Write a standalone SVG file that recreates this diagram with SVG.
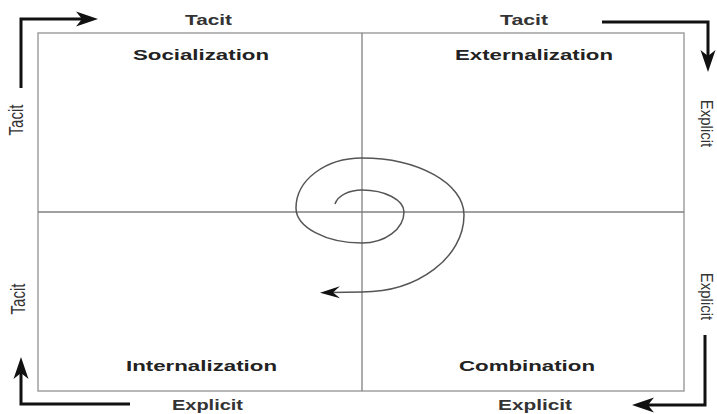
<svg xmlns="http://www.w3.org/2000/svg" width="717" height="414" viewBox="0 0 717 414">
<style>
.box{fill:none;stroke:#a0a0a0;stroke-width:1.5}
.axis{stroke:#808080;stroke-width:1.3;fill:none}
.spiral{fill:none;stroke:#555;stroke-width:1.5}
.flow{fill:none;stroke:#111;stroke-width:3}
.q{font-family:"Liberation Sans",Arial,sans-serif;font-weight:bold;font-size:15px;fill:#222;text-anchor:middle}
.h{font-family:"Liberation Sans",Arial,sans-serif;font-weight:bold;font-size:14px;fill:#333;text-anchor:middle}
.v{font-family:"Liberation Sans",Arial,sans-serif;font-size:15px;fill:#333;text-anchor:middle}
</style>
<defs>
<marker id="bigHead" markerUnits="userSpaceOnUse" viewBox="-24 -9 26 18" markerWidth="26" markerHeight="18" refX="-14" refY="0" orient="auto">
<path d="M0,0 L-22,-7.5 L-16,0 L-22,7.5 Z" fill="#111"/>
</marker>
<marker id="smallHead" markerUnits="userSpaceOnUse" viewBox="-22 -8 24 16" markerWidth="24" markerHeight="16" refX="-10" refY="0" orient="auto">
<path d="M0,0 L-20,-6 L-13,0 L-20,6 Z" fill="#111"/>
</marker>
</defs>
<rect width="717" height="414" fill="#fff"/>

<g id="frame">
<rect class="box" x="38" y="33" width="646" height="358"/>
<line class="axis" x1="362" y1="33" x2="362" y2="391"/>
<line class="axis" x1="38" y1="212" x2="684" y2="212"/>
</g>

<g id="socialization"><text class="q" x="201" y="60" textLength="136" lengthAdjust="spacingAndGlyphs">Socialization</text></g>
<g id="externalization"><text class="q" x="534" y="60" textLength="158" lengthAdjust="spacingAndGlyphs">Externalization</text></g>
<g id="internalization"><text class="q" x="201.5" y="371" textLength="151" lengthAdjust="spacingAndGlyphs">Internalization</text></g>
<g id="combination"><text class="q" x="527" y="371" textLength="136" lengthAdjust="spacingAndGlyphs">Combination</text></g>

<g id="labels">
<text class="h" x="208.5" y="25" textLength="47" lengthAdjust="spacingAndGlyphs">Tacit</text>
<text class="h" x="524" y="25" textLength="48" lengthAdjust="spacingAndGlyphs">Tacit</text>
<text class="h" x="207.5" y="410" textLength="71" lengthAdjust="spacingAndGlyphs">Explicit</text>
<text class="h" x="535" y="410" textLength="74" lengthAdjust="spacingAndGlyphs">Explicit</text>
<text class="v" transform="translate(23,120) rotate(-90) scale(1,1.4)">Tacit</text>
<text class="v" transform="translate(25,299) rotate(-90) scale(1,1.4)">Tacit</text>
<text class="v" transform="translate(701,123.5) rotate(90) scale(1,1.1)">Explicit</text>
<text class="v" transform="translate(701,296.5) rotate(90) scale(1,1.1)">Explicit</text>
</g>

<g id="connectors">
<path class="flow" d="M21,88 V19 H84" marker-end="url(#bigHead)"/>
<path class="flow" d="M602,22 H708 V58" marker-end="url(#bigHead)"/>
<path class="flow" d="M130,404 H21 V371" marker-end="url(#bigHead)"/>
<path class="flow" d="M705,335 V405 H646" marker-end="url(#bigHead)"/>
<path class="spiral" d="M335,204 C338,195 350,190 362,190 C385,190 404,200 404,212 C404,229 385,243 362,243 C325.5,243 296,227 296,208 C296,180 325.5,158 362,158 C418,158 464,183.5 464,215 C464,257.5 418,292 362,292 L330,292.5" marker-end="url(#smallHead)"/>
</g>
</svg>
